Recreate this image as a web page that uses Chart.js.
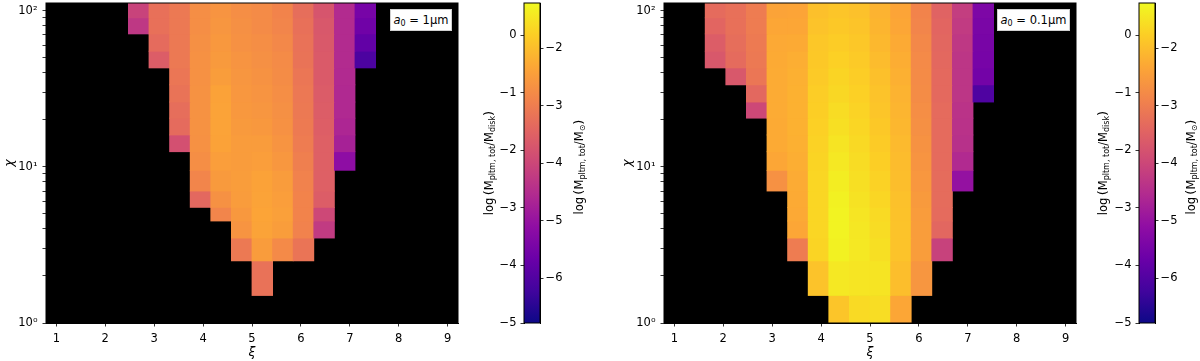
<!DOCTYPE html>
<html>
<head>
<meta charset="utf-8">
<title>planetesimal mass maps</title>
<script src="https://cdn.jsdelivr.net/npm/chart.js@4.4.1/dist/chart.umd.min.js"></script>
<style>
  html, body { margin: 0; padding: 0; background: #fff; }
  body { position: relative; width: 1200px; height: 361px; overflow: hidden; font-family: "DejaVu Sans", sans-serif; color: #000; }
  canvas { position: absolute; top: 0; }
  .tag { position: absolute; top: 9px; height: 22px; line-height: 20px; box-sizing: border-box; background: #fff; border: 1px solid #d0d0d0; text-align: center; font-size: 11.5px; white-space: nowrap; }
  .tag sub, .cbt sub { font-size: 8px; vertical-align: -2px; line-height: 0; }
  .cbt { position: absolute; transform: translate(-50%, -50%) rotate(-90deg); white-space: nowrap; font-size: 11.5px; }
  .cbt .p { font-size: 13px; }
</style>
</head>
<body>
<canvas id="heatA" width="470" height="361" style="left:0px"></canvas>
<canvas id="cbarA" width="130" height="361" style="left:470px"></canvas>
<canvas id="heatB" width="468" height="361" style="left:618px"></canvas>
<canvas id="cbarB" width="115" height="361" style="left:1085px"></canvas>

<div class="tag" style="left:390px;width:62px"><span><i>a</i><sub>0</sub>&nbsp;=&nbsp;1μm</span></div>
<div class="tag" style="left:997px;width:73px"><span><i>a</i><sub>0</sub>&nbsp;=&nbsp;0.1μm</span></div>

<div class="cbt" style="left:488px;top:163px">log&#8201;<span class="p">(</span>M<sub>pltm, tot</sub>/M<sub>disk</sub><span class="p">)</span></div>
<div class="cbt" style="left:578px;top:167px">log&#8201;<span class="p">(</span>M<sub>pltm, tot</sub>/M<sub>⊙</sub><span class="p">)</span></div>
<div class="cbt" style="left:1102px;top:163px">log&#8201;<span class="p">(</span>M<sub>pltm, tot</sub>/M<sub>disk</sub><span class="p">)</span></div>
<div class="cbt" style="left:1190px;top:167px">log&#8201;<span class="p">(</span>M<sub>pltm, tot</sub>/M<sub>⊙</sub><span class="p">)</span></div>

<script>
// grid: 20 xi columns, 17 chi rows (edges listed top -> bottom)
const xiCenters = [1.0000, 1.4211, 1.8421, 2.2632, 2.6842, 3.1053, 3.5263, 3.9474, 4.3684, 4.7895,
                   5.2105, 5.6316, 6.0526, 6.4737, 6.8947, 7.3158, 7.7368, 8.1579, 8.5789, 9.0000];
const xiMin = 0.7895, xiMax = 9.2105;
const xiTicks = [1, 2, 3, 4, 5, 6, 7, 8, 9];
const chiEdges = [112, 90, 71, 55, 43, 33.5, 26, 20.5, 16, 12.5, 9.5, 7, 5.5, 4.5, 3.5, 2.5, 1.5, 1];
const chiTicks = [1, 2, 3, 4, 5, 6, 7, 8, 9, 10, 20, 30, 40, 50, 60, 70, 80, 90, 100];
const chiLabels = { 1: '10⁰', 10: '10¹', 100: '10²' };

// colour bar
const cbRange = [-5, 0.556];
const diskTicks = [-5, -4, -3, -2, -1, 0];
const sunTicks = [-6, -5, -4, -3, -2];
const sunShift = -1.774;

// log(M_pltm,tot / M_disk) per xi column, listed from chi = 100 downwards ([] = nothing formed)
const massA = [
  [], [], [], [],
  [-2.3, -2.5],
  [-1.45, -1.45, -1.55, -1.8],
  [-1.3, -1.3, -1.3, -1.3, -1.35, -1.4, -1.5, -1.55, -2.05],
  [-0.95, -0.95, -0.92, -0.9, -0.9, -0.88, -0.88, -0.88, -0.9, -0.95, -1.1, -1.6],
  [-0.85, -0.82, -0.78, -0.75, -0.7, -0.62, -0.6, -0.6, -0.62, -0.68, -0.75, -0.9, -1.1],
  [-0.95, -0.92, -0.9, -0.85, -0.82, -0.8, -0.78, -0.75, -0.72, -0.72, -0.7, -0.72, -0.78, -0.85, -1.3],
  [-1.0, -1.0, -0.95, -0.92, -0.88, -0.85, -0.82, -0.78, -0.72, -0.68, -0.62, -0.6, -0.58, -0.6, -0.72, -1.42],
  [-1.12, -1.1, -1.05, -1.0, -0.98, -0.95, -0.92, -0.9, -0.85, -0.8, -0.72, -0.68, -0.65, -0.7, -1.02],
  [-1.5, -1.45, -1.42, -1.4, -1.35, -1.32, -1.3, -1.28, -1.25, -1.2, -1.15, -1.12, -1.12, -1.15, -1.38],
  [-1.95, -1.9, -1.88, -1.85, -1.85, -1.82, -1.8, -1.78, -1.75, -1.75, -1.75, -1.8, -2.2, -2.45],
  [-2.75, -2.75, -2.75, -2.75, -2.78, -2.8, -2.8, -2.85, -2.95, -3.35],
  [-3.7, -3.8, -4.0, -4.3],
  [], [], [], []
];

const massB = [
  [], [],
  [-1.55, -1.65, -1.8, -1.9],
  [-1.45, -1.45, -1.5, -1.55, -1.9],
  [-1.25, -1.25, -1.28, -1.3, -1.35, -1.6, -2.2],
  [-0.6, -0.55, -0.52, -0.5, -0.48, -0.48, -0.48, -0.5, -0.5, -0.55, -0.9],
  [-0.58, -0.55, -0.5, -0.45, -0.42, -0.4, -0.4, -0.4, -0.42, -0.45, -0.48, -0.5, -0.52, -0.55, -1.25],
  [-0.2, -0.15, -0.1, -0.08, -0.05, -0.02, 0.0, 0.02, 0.05, 0.08, 0.1, 0.1, 0.1, 0.1, 0.08, -0.15],
  [-0.12, -0.08, -0.03, 0.02, 0.08, 0.12, 0.18, 0.22, 0.28, 0.33, 0.4, 0.45, 0.48, 0.48, 0.45, 0.33, -0.12],
  [-0.18, -0.14, -0.1, -0.06, -0.02, 0.02, 0.06, 0.1, 0.14, 0.18, 0.22, 0.26, 0.3, 0.32, 0.33, 0.3, 0.15],
  [-0.38, -0.34, -0.3, -0.25, -0.2, -0.15, -0.12, -0.08, -0.04, 0.0, 0.05, 0.1, 0.15, 0.18, 0.22, 0.28, 0.2],
  [-0.58, -0.55, -0.5, -0.46, -0.42, -0.38, -0.35, -0.32, -0.28, -0.25, -0.22, -0.18, -0.16, -0.15, -0.15, -0.22, -0.55],
  [-1.12, -1.1, -1.05, -1.02, -1.0, -0.98, -0.95, -0.92, -0.88, -0.85, -0.8, -0.75, -0.72, -0.7, -0.7, -0.82],
  [-1.68, -1.65, -1.62, -1.6, -1.58, -1.58, -1.55, -1.55, -1.55, -1.55, -1.52, -1.52, -1.55, -1.62, -2.32],
  [-2.4, -2.45, -2.5, -2.55, -2.55, -2.55, -2.6, -2.62, -2.65, -2.78, -3.25],
  [-3.6, -3.65, -3.68, -3.7, -3.75, -4.25],
  [], [], [], []
];

// matplotlib plasma, 11 stops
const plasmaStops = ['#0d0887', '#41049d', '#6a00a8', '#8f0da4', '#b12a90', '#cc4778',
                     '#e16462', '#f2844b', '#fca636', '#fcce25', '#f0f921'];

function hexRgb(h) {
  return [1, 3, 5].map(i => parseInt(h.slice(i, i + 2), 16));
}

function plasma(v) {
  let t = (v - cbRange[0]) / (cbRange[1] - cbRange[0]);
  t = Math.max(0, Math.min(1, t)) * 10;
  const i = Math.min(9, Math.floor(t));
  const f = t - i;
  const a = hexRgb(plasmaStops[i]), b = hexRgb(plasmaStops[i + 1]);
  const c = a.map((x, j) => Math.round(x + (b[j] - x) * f));
  return `rgb(${c[0]},${c[1]},${c[2]})`;
}

const minus = v => (v < 0 ? '\u2212' + Math.abs(v) : String(v));

Chart.defaults.font.family = "'DejaVu Sans', sans-serif";
Chart.defaults.font.size = 11.5;
Chart.defaults.color = '#000';

// black plot background + thin frame
const frame = {
  id: 'frame',
  beforeDatasetsDraw(chart, args, opts) {
    if (!opts.fill) return;
    const { ctx, chartArea: a } = chart;
    ctx.save();
    ctx.fillStyle = opts.fill;
    ctx.fillRect(a.left, a.top, a.width, a.height);
    ctx.restore();
  },
  afterDatasetsDraw(chart) {
    const { ctx, chartArea: a } = chart;
    ctx.save();
    ctx.strokeStyle = '#000';
    ctx.lineWidth = 1;
    ctx.strokeRect(a.left, a.top, a.width, a.height);
    ctx.restore();
  }
};

// one bar dataset per chi row, floating between the row edges
function rowSets(cols) {
  const sets = [];
  for (let r = 0; r < chiEdges.length - 1; r++) {
    const pts = [];
    const colors = [];
    cols.forEach((col, k) => {
      if (col.length > r) {
        pts.push({ x: xiCenters[k], y: [chiEdges[r + 1], chiEdges[r]] });
        colors.push(plasma(col[r]));
      }
    });
    sets.push({
      data: pts,
      backgroundColor: colors,
      borderWidth: 0,
      grouped: false,
      barPercentage: 1,
      categoryPercentage: 1,
      inflateAmount: 0.4
    });
  }
  return sets;
}

const tickGrid = { drawOnChartArea: false, offset: false, tickLength: 3.5, tickColor: '#000', tickWidth: 0.8 };

function heatChart(id, cols, padRight) {
  return new Chart(document.getElementById(id), {
    type: 'bar',
    data: { datasets: rowSets(cols) },
    options: {
      responsive: false,
      animation: false,
      layout: { padding: { top: 3, right: padRight, left: 0, bottom: 0 } },
      plugins: { legend: { display: false }, tooltip: { enabled: false }, frame: { fill: '#000' } },
      scales: {
        x: {
          type: 'linear', min: xiMin, max: xiMax, offset: false,
          afterBuildTicks: s => { s.ticks = xiTicks.map(v => ({ value: v })); },
          afterFit: s => { s.height = 38; s.paddingLeft = 0; s.paddingRight = 0; },
          ticks: { autoSkip: false, maxRotation: 0, padding: 6 },
          grid: tickGrid,
          border: { color: '#000' },
          title: { display: true, text: 'ξ', font: { size: 12.5, style: 'italic' }, padding: { top: 0, bottom: 1 } }
        },
        y: {
          type: 'logarithmic', min: 1, max: chiEdges[0],
          afterBuildTicks: s => { s.ticks = chiTicks.map(v => ({ value: v })); },
          afterFit: s => { s.width = 46; s.paddingTop = 0; s.paddingBottom = 0; },
          ticks: { autoSkip: false, padding: 5, callback: v => chiLabels[v] || '' },
          grid: tickGrid,
          border: { color: '#000' },
          title: { display: true, text: 'χ', font: { size: 12.5, style: 'italic' }, padding: 2 }
        }
      }
    },
    plugins: [frame]
  });
}

function cbarChart(id, rightWidth) {
  return new Chart(document.getElementById(id), {
    type: 'bar',
    data: {
      labels: [''],
      datasets: [{
        data: [cbRange],
        borderWidth: 0,
        barPercentage: 1,
        categoryPercentage: 1,
        backgroundColor: c => {
          const chart = c.chart;
          if (!chart.chartArea) return '#888';
          const y = chart.scales.y;
          const g = chart.ctx.createLinearGradient(0, y.getPixelForValue(cbRange[0]), 0, y.getPixelForValue(cbRange[1]));
          plasmaStops.forEach((col, i) => g.addColorStop(i / (plasmaStops.length - 1), col));
          return g;
        }
      }]
    },
    options: {
      responsive: false,
      animation: false,
      layout: { padding: { top: 3, bottom: 38, left: 0, right: 0 } },
      plugins: { legend: { display: false }, tooltip: { enabled: false } },
      scales: {
        x: { display: false },
        y: {
          position: 'left', min: cbRange[0], max: cbRange[1],
          afterBuildTicks: s => { s.ticks = diskTicks.map(v => ({ value: v })); },
          afterFit: s => { s.width = 54; s.paddingTop = 0; s.paddingBottom = 0; },
          ticks: { autoSkip: false, padding: 4, callback: v => minus(v) },
          grid: tickGrid,
          border: { color: '#000' }
        },
        y2: {
          position: 'right', min: cbRange[0] + sunShift, max: cbRange[1] + sunShift,
          afterBuildTicks: s => { s.ticks = sunTicks.map(v => ({ value: v })); },
          afterFit: s => { s.width = rightWidth; s.paddingTop = 0; s.paddingBottom = 0; },
          ticks: { autoSkip: false, padding: 2, callback: v => minus(v) },
          grid: tickGrid,
          border: { color: '#000' }
        }
      }
    },
    plugins: [frame]
  });
}

heatChart('heatA', massA, 12);
heatChart('heatB', massB, 10);
cbarChart('cbarA', 60);
cbarChart('cbarB', 45);
</script>
</body>
</html>
